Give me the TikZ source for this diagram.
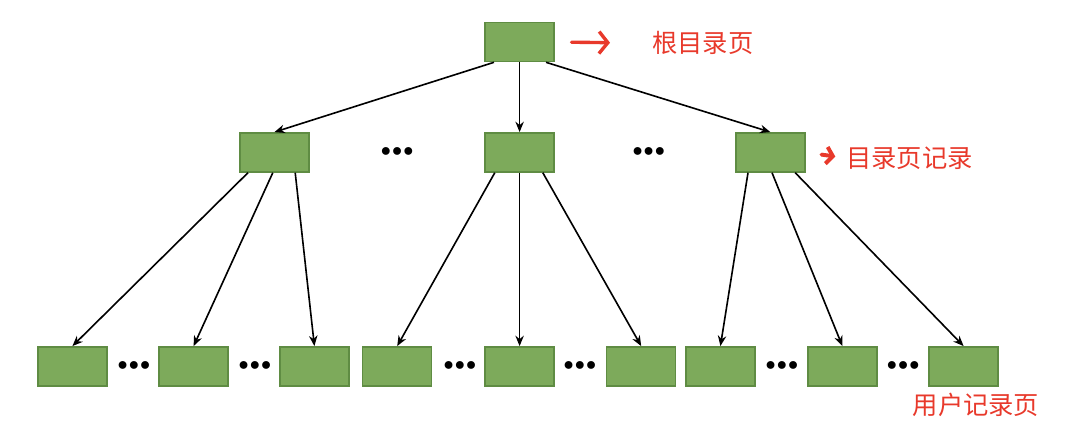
\documentclass[tikz,border=0pt]{standalone}
\usepackage{fontspec}
\newfontfamily\cjk{Noto Sans CJK SC}
\usepackage{tikz}
\usetikzlibrary{arrows.meta,positioning}
\definecolor{PageGreen}{HTML}{7DAA5B}
\definecolor{PageEdge}{HTML}{5F8C43}
\definecolor{NoteRed}{HTML}{E8392B}

\begin{document}
\begin{tikzpicture}[
  page/.style={draw=PageEdge,fill=PageGreen,line width=1pt,minimum width=1.725cm,minimum height=0.98cm,inner sep=0pt},
  dots/.style={font=\Large,inner sep=0pt},
  note/.style={text=NoteRed,font=\cjk\fontsize{18}{20}\selectfont,inner sep=0pt},
  link/.style={-{Stealth[length=2.6mm,width=2.1mm]},line width=1.15pt,draw=black},
  redarrow/.style={-{Straight Barb[length=2.2mm,width=5.5mm]},line width=2.4pt,draw=NoteRed,line cap=round}
]
\useasboundingbox (0,0) rectangle (27,-11.075);
% root and directory pages
\node[page] (root) at (12.99,-1.05) {};
\node[page] (dirA) at (6.86,-3.81) {};
\node[page] (dirB) at (12.99,-3.81) {};
\node[page] (dirC) at (19.26,-3.81) {};
\node[dots] (dotsAB) at (9.93,-3.8) {$\bullet\!\bullet\!\bullet$};
\node[dots] (dotsBC) at (16.22,-3.8) {$\bullet\!\bullet\!\bullet$};
% user record pages
\node[page] (recA1) at (1.81,-9.16) {};
\node[page] (recA2) at (4.84,-9.16) {};
\node[page] (recA3) at (7.86,-9.16) {};
\node[page] (recB1) at (9.93,-9.16) {};
\node[page] (recB2) at (12.99,-9.16) {};
\node[page] (recB3) at (16.03,-9.16) {};
\node[page] (recC1) at (18.01,-9.16) {};
\node[page] (recC2) at (21.06,-9.16) {};
\node[page] (recC3) at (24.09,-9.16) {};
\node[dots] (dotsA1) at (3.35,-9.15) {$\bullet\!\bullet\!\bullet$};
\node[dots] (dotsA2) at (6.375,-9.15) {$\bullet\!\bullet\!\bullet$};
\node[dots] (dotsB1) at (11.5,-9.15) {$\bullet\!\bullet\!\bullet$};
\node[dots] (dotsB2) at (14.5,-9.15) {$\bullet\!\bullet\!\bullet$};
\node[dots] (dotsC1) at (19.55,-9.15) {$\bullet\!\bullet\!\bullet$};
\node[dots] (dotsC2) at (22.58,-9.15) {$\bullet\!\bullet\!\bullet$};
% labels
\node[note,anchor=west] (rootText) at (16.3,-1.08) {根目录页};
\node[note,anchor=west] (dirText) at (21.15,-3.95) {目录页记录};
\node[note] (recText) at (24.4,-10.13) {用户记录页};
\draw[redarrow,shorten <=0.42cm,shorten >=1.05cm] (root.east) -- (rootText.west);
\draw[redarrow,line width=2.8pt,-{Straight Barb[length=1.6mm,width=4.2mm]},shorten <=0.4cm,shorten >=0.27cm] (dirC.east) -- (dirText.west);
% links
\draw[link] ([xshift=-0.64cm]root.south) -- (dirA.north);
\draw[link] (root.south) -- (dirB.north);
\draw[link] ([xshift=0.66cm]root.south) -- (dirC.north);
\draw[link] ([xshift=-0.66cm]dirA.south) -- (recA1.north);
\draw[link] ([xshift=-0.04cm]dirA.south) -- (recA2.north);
\draw[link] ([xshift=0.52cm]dirA.south) -- (recA3.north);
\draw[link] ([xshift=-0.62cm]dirB.south) -- (recB1.north);
\draw[link] (dirB.south) -- (recB2.north);
\draw[link] ([xshift=0.58cm]dirB.south) -- (recB3.north);
\draw[link] ([xshift=-0.56cm]dirC.south) -- (recC1.north);
\draw[link] ([xshift=0.04cm]dirC.south) -- (recC2.north);
\draw[link] ([xshift=0.62cm]dirC.south) -- (recC3.north);
\end{tikzpicture}
\end{document}
